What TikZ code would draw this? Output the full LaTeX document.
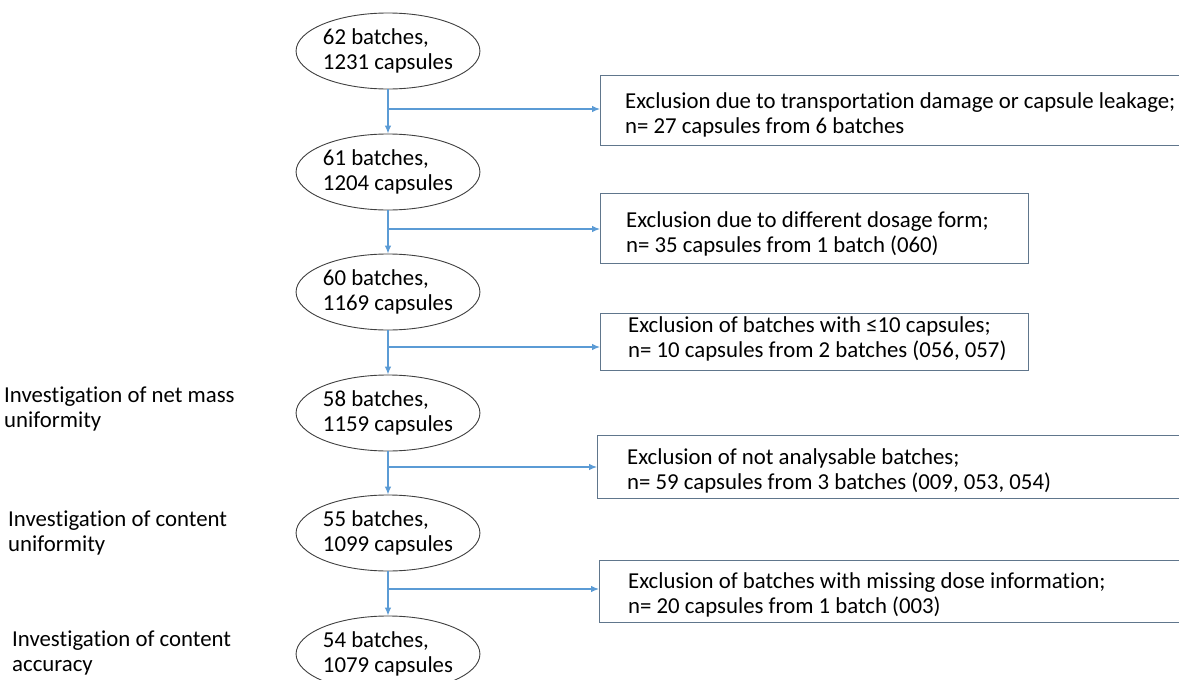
\documentclass[tikz,border=0pt]{standalone}
\usepackage{fontspec}
\setmainfont{Carlito}[Ligatures=NoCommon]
\usetikzlibrary{shapes.geometric,arrows.meta}
\definecolor{flowblue}{RGB}{91,155,213}
\definecolor{boxgray}{RGB}{96,118,140}
\newcommand{\flowfont}{\fontsize{22.8}{25}\selectfont}
\tikzset{
  batch/.style={ellipse,draw=black!75,line width=.9pt,minimum width=177pt,minimum height=76pt,inner sep=0pt,align=left,font=\flowfont},
  exclbox/.style={draw=boxgray,line width=.9pt,anchor=north west,inner sep=0pt},
  excltext/.style={anchor=west,align=left,inner sep=0pt,font=\flowfont},
  sidetext/.style={anchor=west,align=left,inner sep=0pt,font=\flowfont},
  flow/.style={draw=flowblue,line width=1.1pt,-{Latex[length=8pt,width=6.5pt]}},
}
\begin{document}
\begin{tikzpicture}[x=1pt,y=-1pt]
\clip (0,0) rectangle (1179,680);
% batch counts
\node[batch] (e1) at (388,51) {62 batches,\\1231 capsules};
\node[batch] (e2) at (388,172) {61 batches,\\1204 capsules};
\node[batch] (e3) at (388,292) {60 batches,\\1169 capsules};
\node[batch] (e4) at (388,413) {58 batches,\\1159 capsules};
\node[batch] (e5) at (388,533) {55 batches,\\1099 capsules};
\node[batch] (e6) at (388,654) {54 batches,\\1079 capsules};
% exclusions
\node[exclbox,minimum width=640pt,minimum height=70pt] (b1) at (600,75) {};
\node[excltext] (t1) at ([xshift=25pt,yshift=-4pt]b1.west) {Exclusion due to transportation damage or capsule leakage;\\n= 27 capsules from 6 batches};
\node[exclbox,minimum width=428pt,minimum height=70pt] (b2) at (600,193) {};
\node[excltext] (t2) at ([xshift=26pt,yshift=-5pt]b2.west) {Exclusion due to different dosage form;\\n= 35 capsules from 1 batch (060)};
\node[exclbox,minimum width=428pt,minimum height=57pt] (b3) at (600,313) {};
\node[excltext] (t3) at ([xshift=28pt,yshift=3pt]b3.west) {Exclusion of batches with ≤10 capsules;\\n= 10 capsules from 2 batches (056, 057)};
\node[exclbox,minimum width=640pt,minimum height=63pt] (b4) at (597,435) {};
\node[excltext] (t4) at ([xshift=30pt,yshift=-4pt]b4.west) {Exclusion of not analysable batches;\\n= 59 capsules from 3 batches (009, 053, 054)};
\node[exclbox,minimum width=640pt,minimum height=62pt] (b5) at (599,560) {};
\node[excltext] (t5) at ([xshift=29pt,yshift=-3pt]b5.west) {Exclusion of batches with missing dose information;\\n= 20 capsules from 1 batch (003)};
% side notes
\node[sidetext] (s1) at (4,409) {Investigation of net mass\\uniformity};
\node[sidetext] (s2) at (8,533) {Investigation of content\\uniformity};
\node[sidetext] (s3) at (12,653) {Investigation of content\\accuracy};
% connectors
\coordinate (c1) at (e1.south |- 0,109);
\coordinate (c2) at (e2.south |- 0,229);
\coordinate (c3) at (e3.south |- 0,347);
\coordinate (c4) at (e4.south |- 0,467);
\coordinate (c5) at (e5.south |- 0,589);
\draw[flow] (e1.south) -- (e2.north);
\draw[flow] (e2.south) -- (e3.north);
\draw[flow] (e3.south) -- (e4.north);
\draw[flow] (e4.south) -- (e5.north);
\draw[flow] (e5.south) -- (e6.north);
\draw[flow] (c1) -- (c1 -| b1.west);
\draw[flow] (c2) -- (c2 -| b2.west);
\draw[flow] (c3) -- (c3 -| b3.west);
\draw[flow] (c4) -- (c4 -| b4.west);
\draw[flow] (c5) -- (c5 -| b5.west);
\end{tikzpicture}
\end{document}
